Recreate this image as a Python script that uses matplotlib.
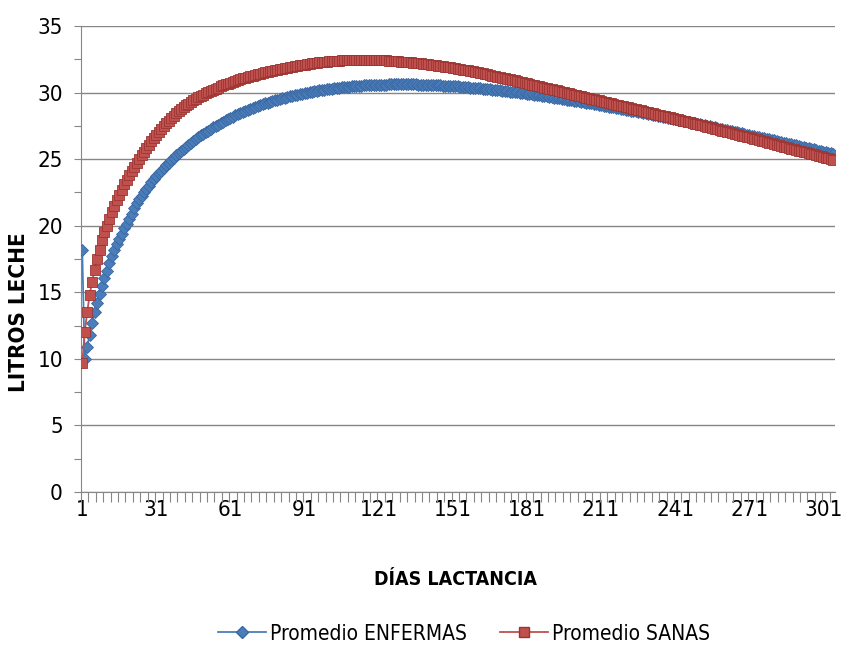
import numpy as np
import matplotlib
matplotlib.use("Agg")
import matplotlib.pyplot as plt
from matplotlib import font_manager
from matplotlib.lines import Line2D

# Fuente estrecha parecida a Calibri, si existe
fuentes = font_manager.fontManager.ttflist
nombres = {f.name for f in fuentes}
estrecha = [f for f in fuentes if f.name == "DejaVu Sans" and "condensed" in str(f.stretch)]
if "Liberation Sans Narrow" in nombres:
    plt.rcParams["font.family"] = ["Liberation Sans Narrow", "DejaVu Sans"]
    ancho = "normal"
elif estrecha:
    plt.rcParams["font.family"] = ["DejaVu Sans"]
    ancho = "condensed"
else:
    plt.rcParams["font.family"] = ["Roboto", "DejaVu Sans"]
    ancho = "normal"
plt.rcParams["font.stretch"] = ancho

# Días de lactancia (categorías)
dias = list(range(1, 306))
etiquetas_x = [1, 31, 61, 91, 121, 151, 181, 211, 241, 271, 301]

# Promedio ENFERMAS (litros por día)
enfermas = [
    18.2, 10.0, 10.9, 11.8, 12.7, 13.5, 14.2, 14.9, 15.5, 16.1,
    16.6, 17.2, 17.7, 18.2, 18.6, 19.0, 19.4, 19.8, 20.15, 20.5,
    20.9, 21.3, 21.7, 22.0, 22.26, 22.51, 22.76, 23.01, 23.26, 23.51,
    23.72, 23.93, 24.14, 24.35, 24.56, 24.74, 24.92, 25.11, 25.29, 25.47,
    25.62, 25.78, 25.93, 26.09, 26.24, 26.38, 26.51, 26.65, 26.78, 26.92,
    27.04, 27.15, 27.27, 27.38, 27.5, 27.6, 27.7, 27.81, 27.91, 28.01,
    28.1, 28.19, 28.28, 28.37, 28.46, 28.54, 28.61, 28.69, 28.76, 28.84,
    28.91, 28.98, 29.04, 29.11, 29.18, 29.24, 29.3, 29.35, 29.41, 29.47,
    29.52, 29.57, 29.62, 29.67, 29.72, 29.76, 29.8, 29.85, 29.89, 29.93,
    29.97, 30.0, 30.04, 30.07, 30.11, 30.14, 30.17, 30.19, 30.22, 30.25,
    30.27, 30.3, 30.32, 30.35, 30.37, 30.39, 30.41, 30.43, 30.45, 30.47,
    30.48, 30.5, 30.51, 30.53, 30.54, 30.55, 30.56, 30.56, 30.57, 30.58,
    30.59, 30.59, 30.6, 30.6, 30.61, 30.61, 30.61, 30.62, 30.62, 30.62,
    30.62, 30.62, 30.61, 30.61, 30.61, 30.61, 30.6, 30.6, 30.59, 30.59,
    30.58, 30.57, 30.57, 30.56, 30.55, 30.54, 30.53, 30.52, 30.51, 30.5,
    30.49, 30.47, 30.46, 30.44, 30.43, 30.41, 30.4, 30.38, 30.37, 30.35,
    30.33, 30.31, 30.3, 30.28, 30.26, 30.24, 30.22, 30.21, 30.19, 30.17,
    30.15, 30.13, 30.1, 30.08, 30.06, 30.04, 30.01, 29.99, 29.96, 29.94,
    29.92, 29.89, 29.87, 29.84, 29.82, 29.79, 29.76, 29.74, 29.71, 29.68,
    29.65, 29.62, 29.6, 29.57, 29.54, 29.51, 29.48, 29.46, 29.43, 29.4,
    29.37, 29.34, 29.3, 29.27, 29.24, 29.21, 29.18, 29.14, 29.11, 29.08,
    29.05, 29.02, 28.98, 28.95, 28.92, 28.89, 28.85, 28.82, 28.78, 28.75,
    28.72, 28.68, 28.65, 28.61, 28.58, 28.54, 28.51, 28.47, 28.44, 28.4,
    28.36, 28.33, 28.29, 28.26, 28.22, 28.18, 28.14, 28.11, 28.07, 28.03,
    27.99, 27.95, 27.92, 27.88, 27.84, 27.8, 27.76, 27.73, 27.69, 27.65,
    27.61, 27.57, 27.54, 27.5, 27.46, 27.42, 27.38, 27.34, 27.3, 27.26,
    27.22, 27.18, 27.14, 27.1, 27.06, 27.02, 26.98, 26.93, 26.89, 26.85,
    26.81, 26.77, 26.73, 26.69, 26.65, 26.61, 26.57, 26.53, 26.49, 26.45,
    26.41, 26.37, 26.32, 26.28, 26.24, 26.2, 26.16, 26.11, 26.07, 26.03,
    25.99, 25.95, 25.9, 25.86, 25.82, 25.78, 25.74, 25.69, 25.65, 25.61,
    25.57, 25.53, 25.48, 25.44, 25.4,
]

# Promedio SANAS (litros por día)
sanas = [
    9.7, 12.0, 13.5, 14.8, 15.8, 16.7, 17.5, 18.2, 18.9, 19.5,
    20.0, 20.5, 21.0, 21.5, 21.9, 22.3, 22.7, 23.1, 23.45, 23.8,
    24.1, 24.4, 24.7, 25.0, 25.28, 25.56, 25.84, 26.1, 26.36, 26.6,
    26.83, 27.05, 27.27, 27.49, 27.7, 27.89, 28.07, 28.25, 28.43, 28.6,
    28.75, 28.89, 29.03, 29.17, 29.3, 29.42, 29.53, 29.64, 29.75, 29.85,
    29.94, 30.03, 30.12, 30.21, 30.3, 30.38, 30.46, 30.54, 30.61, 30.68,
    30.75, 30.81, 30.88, 30.94, 31.0, 31.06, 31.12, 31.17, 31.23, 31.28,
    31.33, 31.38, 31.43, 31.48, 31.52, 31.56, 31.6, 31.64, 31.68, 31.72,
    31.76, 31.8, 31.84, 31.88, 31.92, 31.95, 31.98, 32.01, 32.04, 32.07,
    32.1, 32.13, 32.16, 32.19, 32.22, 32.24, 32.26, 32.28, 32.3, 32.32,
    32.34, 32.36, 32.37, 32.39, 32.4, 32.41, 32.42, 32.43, 32.44, 32.45,
    32.45, 32.46, 32.46, 32.46, 32.46, 32.46, 32.45, 32.45, 32.44, 32.44,
    32.43, 32.42, 32.42, 32.41, 32.4, 32.39, 32.37, 32.36, 32.34, 32.33,
    32.31, 32.3, 32.28, 32.27, 32.25, 32.23, 32.21, 32.19, 32.17, 32.15,
    32.13, 32.1, 32.08, 32.05, 32.03, 32.0, 31.97, 31.95, 31.92, 31.89,
    31.86, 31.83, 31.79, 31.76, 31.73, 31.69, 31.66, 31.62, 31.59, 31.55,
    31.51, 31.47, 31.44, 31.4, 31.36, 31.32, 31.28, 31.24, 31.2, 31.16,
    31.12, 31.08, 31.03, 30.99, 30.95, 30.91, 30.86, 30.82, 30.77, 30.73,
    30.69, 30.64, 30.6, 30.55, 30.51, 30.47, 30.42, 30.38, 30.33, 30.29,
    30.25, 30.2, 30.16, 30.11, 30.07, 30.03, 29.98, 29.94, 29.89, 29.85,
    29.81, 29.76, 29.72, 29.67, 29.63, 29.59, 29.54, 29.5, 29.45, 29.41,
    29.37, 29.32, 29.28, 29.23, 29.19, 29.15, 29.1, 29.06, 29.01, 28.97,
    28.93, 28.88, 28.84, 28.79, 28.75, 28.71, 28.66, 28.62, 28.57, 28.53,
    28.49, 28.44, 28.4, 28.35, 28.31, 28.27, 28.22, 28.18, 28.13, 28.09,
    28.04, 28.0, 27.95, 27.9, 27.86, 27.81, 27.76, 27.71, 27.67, 27.62,
    27.57, 27.53, 27.48, 27.43, 27.38, 27.34, 27.29, 27.24, 27.2, 27.15,
    27.1, 27.05, 27.01, 26.96, 26.91, 26.87, 26.82, 26.77, 26.73, 26.68,
    26.63, 26.58, 26.53, 26.48, 26.44, 26.39, 26.34, 26.29, 26.24, 26.19,
    26.14, 26.09, 26.04, 25.99, 25.95, 25.9, 25.85, 25.8, 25.75, 25.7,
    25.65, 25.6, 25.55, 25.5, 25.46, 25.41, 25.36, 25.31, 25.26, 25.21,
    25.16, 25.11, 25.06, 25.01, 24.96,
]

azul = "#4A7EBB"
azul_borde = "#3A67A0"
rojo = "#C0504D"
rojo_borde = "#9B3532"
gris = "#868686"

fig = plt.figure(figsize=(8.42, 6.5), dpi=100)
ax = fig.add_axes([0.0962, 0.243, 0.895, 0.717])

# Líneas con marcadores, como en Excel
ax.plot(dias, enfermas, color=azul, lw=1.3, marker="D", markersize=6.5,
        markerfacecolor=azul, markeredgecolor=azul_borde, markeredgewidth=0.6,
        zorder=3)
ax.plot(dias, sanas, color=rojo, lw=1.3, marker="s", markersize=7,
        markerfacecolor=rojo, markeredgecolor=rojo_borde, markeredgewidth=0.6,
        zorder=4)

ax.set_xlim(0.5, len(dias) + 0.5)
ax.set_ylim(0, 35)

# Eje Y
ax.set_yticks(np.arange(0, 36, 5))
ax.set_yticks(np.arange(0, 36, 2.5), minor=True)
ax.yaxis.grid(True, which="major", color=gris, lw=1.0)
ax.set_axisbelow(True)

# Eje X: marcas cada 3 categorías, etiquetas cada 30
ax.set_xticks(etiquetas_x)
ax.set_xticks(np.arange(0.5, len(dias) + 1, 3), minor=True)

ax.tick_params(axis="x", which="major", length=0, pad=6, labelsize=16)
ax.tick_params(axis="x", which="minor", length=7, color=gris, width=0.8)
ax.tick_params(axis="y", which="both", length=5, color=gris, width=0.8,
               labelsize=16, pad=8)

for lado in ["top", "right"]:
    ax.spines[lado].set_visible(False)
ax.spines["left"].set_color(gris)
ax.spines["bottom"].set_color(gris)

fig.text(0.541, 0.108, "DÍAS LACTANCIA", ha="center", va="center",
         fontsize=14, fontweight="bold")
fig.text(0.022, 0.52, "LITROS LECHE", rotation=90, ha="center", va="center",
         fontsize=16, fontweight="bold")

# Leyenda
h1 = Line2D([], [], color=azul, lw=1.3, marker="D", markersize=6.5,
            markerfacecolor=azul, markeredgecolor=azul_borde)
h2 = Line2D([], [], color=rojo, lw=1.3, marker="s", markersize=7,
            markerfacecolor=rojo, markeredgecolor=rojo_borde)
fig.legend([h1, h2], ["Promedio ENFERMAS", "Promedio SANAS"], loc="center",
           bbox_to_anchor=(0.551, 0.025), ncol=2, frameon=False, fontsize=15,
           handlelength=2.3, columnspacing=1.6, handletextpad=0.2)

fig.savefig("out.png", dpi=100)
